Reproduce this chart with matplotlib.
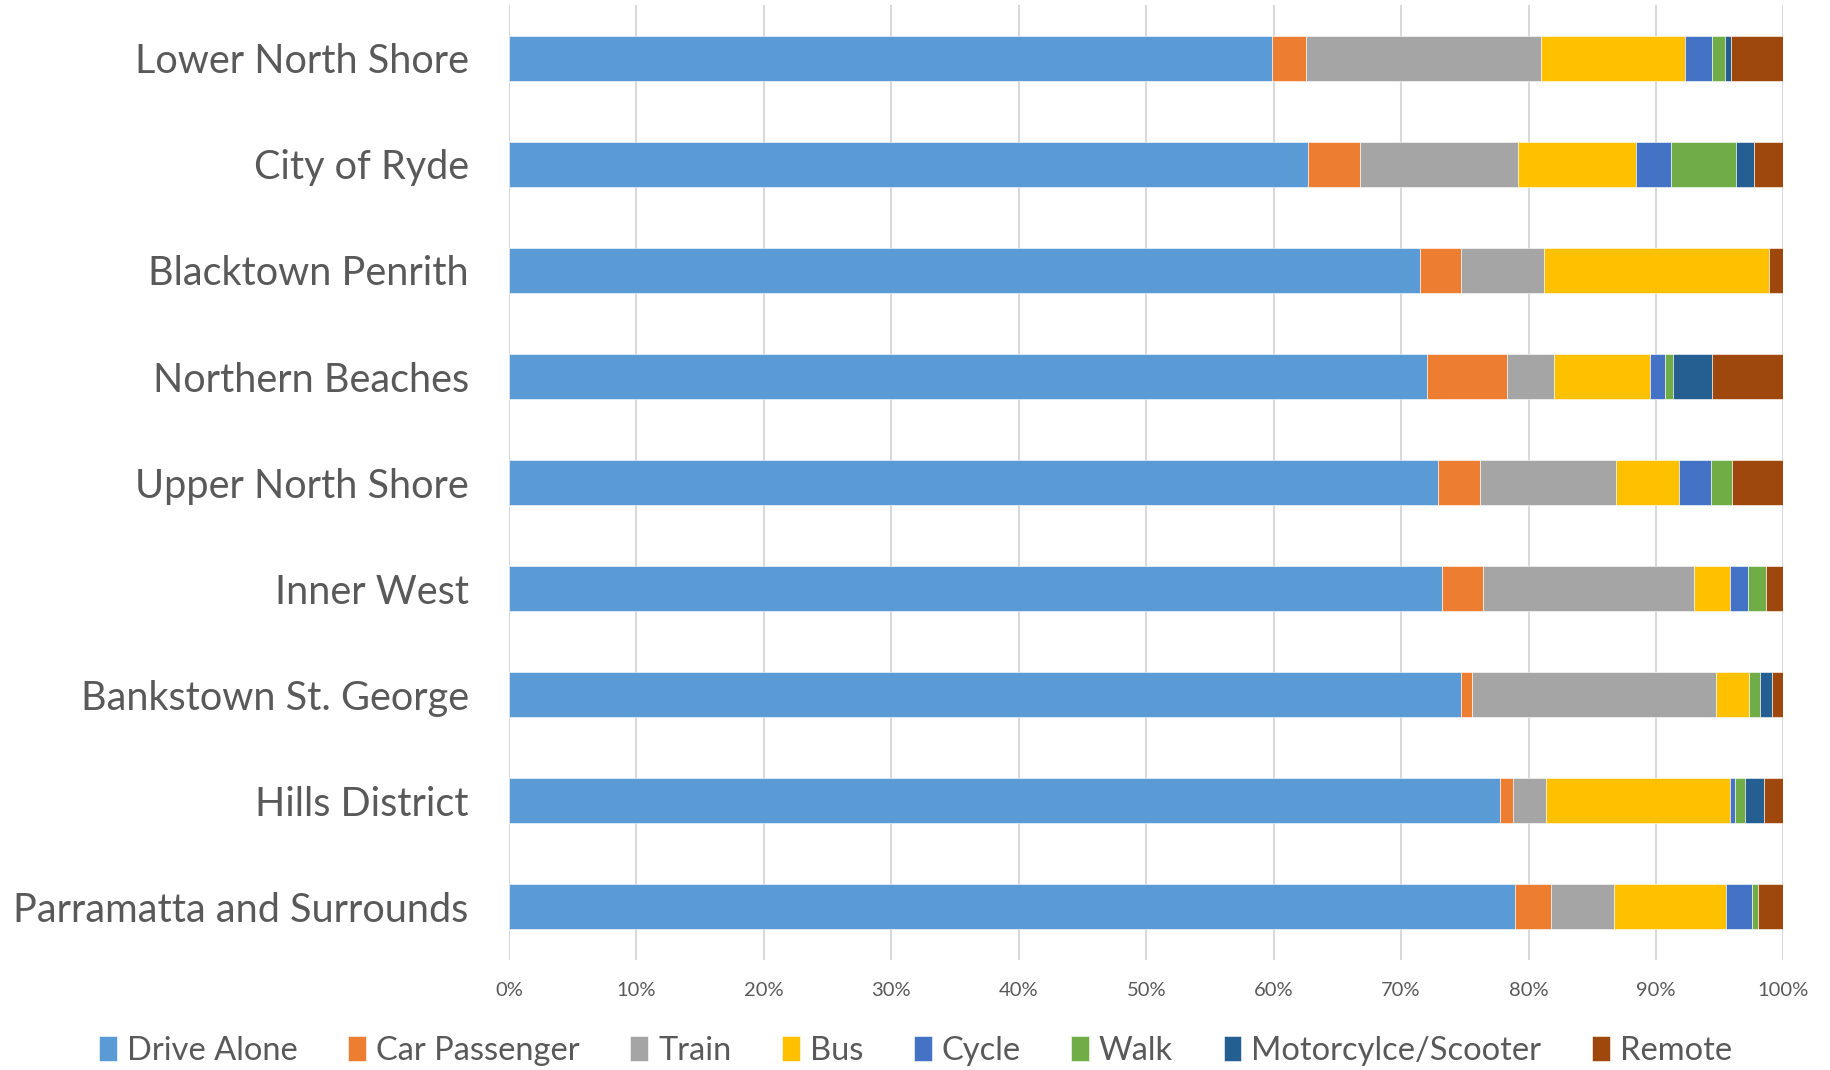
import matplotlib.pyplot as plt
import numpy as np

regions = ["Lower North Shore", "City of Ryde", "Blacktown Penrith", "Northern Beaches",
           "Upper North Shore", "Inner West", "Bankstown St. George", "Hills District",
           "Parramatta and Surrounds"]

modes = ["Drive Alone", "Car Passenger", "Train", "Bus", "Cycle", "Walk",
         "Motorcylce/Scooter", "Remote"]

drive_alone = [59.9, 62.7, 71.5, 72.0, 72.9, 73.2, 74.7, 77.8, 78.9]
car_passenger = [2.6, 4.1, 3.2, 6.3, 3.3, 3.2, 0.9, 1.0, 2.9]
train = [18.5, 12.4, 6.5, 3.7, 10.7, 16.6, 19.1, 2.6, 4.9]
bus = [11.3, 9.2, 17.7, 7.5, 4.9, 2.8, 2.6, 14.4, 8.8]
cycle = [2.1, 2.8, 0.0, 1.2, 2.5, 1.4, 0.0, 0.4, 2.0]
walk = [1.0, 5.1, 0.0, 0.6, 1.7, 1.4, 0.9, 0.8, 0.5]
motorcycle = [0.5, 1.4, 0.0, 3.1, 0.0, 0.0, 0.9, 1.5, 0.0]
remote = [4.1, 2.3, 1.1, 5.6, 4.0, 1.4, 0.9, 1.5, 2.0]

colors = ["#5B9BD5", "#ED7D31", "#A5A5A5", "#FFC000", "#4472C4", "#70AD47",
          "#255E91", "#9E480E"]

series = [drive_alone, car_passenger, train, bus, cycle, walk, motorcycle, remote]

plt.rcParams['font.family'] = ['Lato', 'DejaVu Sans']
text_color = "#595959"

fig = plt.figure(figsize=(18.31, 10.70), dpi=100)
ax = fig.add_axes([0.278, 0.103, 0.696, 0.892])

y = np.arange(len(regions))[::-1]
left = np.zeros(len(regions))
for name, vals, col in zip(modes, series, colors):
    vals = np.array(vals) / 100.0
    ax.barh(y, vals, left=left, height=0.42, color=col, label=name,
            edgecolor="white", linewidth=0.4)
    left += vals

ax.set_xlim(0, 1)
ax.set_ylim(-0.5, len(regions) - 0.5)
ax.set_xticks(np.linspace(0, 1, 11))
ax.set_xticklabels([f"{int(v)}%" for v in np.linspace(0, 100, 11)])
ax.set_yticks(y)
ax.set_yticklabels(regions)
ax.tick_params(axis='x', length=0, labelsize=14.5, colors=text_color, pad=16)
ax.tick_params(axis='y', length=0, labelsize=28.5, colors=text_color, pad=29)
ax.xaxis.grid(True, color="#D9D9D9", linewidth=1.5)
ax.set_axisbelow(True)
for s in ax.spines.values():
    s.set_visible(False)

ax.legend(loc='lower center', bbox_to_anchor=(0.5, -0.008), bbox_transform=fig.transFigure,
          ncol=8, frameon=False, fontsize=23.5, labelcolor=text_color,
          handlelength=0.55, handleheight=0.8, handletextpad=0.3, columnspacing=1.55,
          borderaxespad=0.0)

fig.savefig("out.png", dpi=100)
